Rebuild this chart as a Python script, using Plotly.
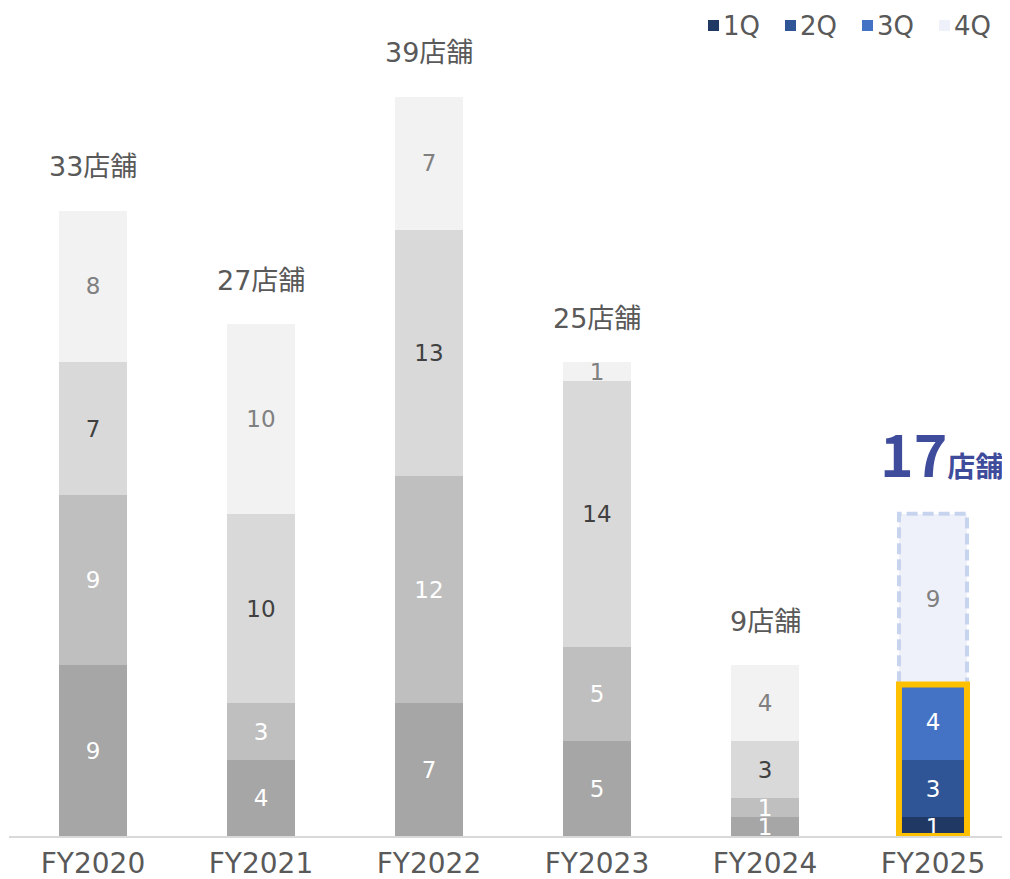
import plotly.graph_objects as go

# ---- data ----
years = ["FY2020", "FY2021", "FY2022", "FY2023", "FY2024", "FY2025"]
quarters = ["1Q", "2Q", "3Q", "4Q"]
q1 = [9, 4, 7, 5, 1, 1]
q2 = [9, 3, 12, 5, 1, 3]
q3 = [7, 10, 13, 14, 3, 4]
q4 = [8, 10, 7, 1, 4, 9]
unit = "店舗"

series = [q1, q2, q3, q4]
totals = [sum(v) for v in zip(*series)]

# ---- styles ----
grey = ["#A6A6A6", "#BFBFBF", "#D9D9D9", "#F2F2F2"]
blue = ["#203864", "#2F5597", "#4472C4", "#EEF1F9"]
grey_txt = ["#FFFFFF", "#FFFFFF", "#404040", "#808080"]
blue_txt = ["#FFFFFF", "#FFFFFF", "#FFFFFF", "#808080"]
FONT = "DejaVu Sans, Noto Sans CJK JP"
BOLD_FONT = "Noto Sans CJK JP"
TXT = "#595959"
BAR_W = 0.405

# figure geometry (page has an 8px body margin)
W, H = 1002, 871
L, R, T, B = 1, 0, 12, 43
PAD = 8


def xp(px):
    return (px - PAD - L) / (W - L - R)


def yp(py):
    return (H - B - (py - PAD)) / (H - T - B)


past = years[:-1]
cur = years[-1]

fig = go.Figure()
for i, (q, vals) in enumerate(zip(quarters, series)):
    fig.add_trace(go.Bar(
        x=past, y=vals[:-1], name=q, showlegend=False,
        marker=dict(color=grey[i], line=dict(width=0)),
        text=vals[:-1], textposition="inside", insidetextanchor="middle", textangle=0,
        textfont=dict(color=grey_txt[i], size=23, family=FONT),
        hoverinfo="skip",
    ))
    fig.add_trace(go.Bar(
        x=[cur], y=[vals[-1]], name=q, showlegend=False,
        marker=dict(color=blue[i], line=dict(width=0)),
        text=[vals[-1]], textposition="inside", insidetextanchor="middle", textangle=0,
        textfont=dict(color=blue_txt[i], size=23, family=FONT),
        hoverinfo="skip",
    ))

# total labels
for yr, tot in zip(past, totals[:-1]):
    fig.add_annotation(x=yr, y=tot, yshift=44, text=f"{tot}{unit}", showarrow=False,
                       font=dict(size=27, color=TXT, family=FONT), yanchor="middle")
fig.add_annotation(
    x=cur, y=totals[-1], yshift=19, xshift=8, showarrow=False, yanchor="bottom",
    text=f"<b><span style='font-size:57px'>{totals[-1]}</span>"
         f"<span style='font-size:28px'>{unit}</span></b>",
    font=dict(color="#3F4C9B", family=BOLD_FONT),
)

# current year outlines
ci = years.index(cur)
done = q1[ci] + q2[ci] + q3[ci]
fig.add_shape(type="rect", xref="x", yref="y",
              x0=ci - BAR_W / 2, x1=ci + BAR_W / 2, y0=done, y1=totals[ci],
              line=dict(color="#C7D4EE", width=4, dash="11px,5px"), layer="above")
fig.add_shape(type="rect", xref="x", yref="y",
              x0=ci - BAR_W / 2, x1=ci + BAR_W / 2, y0=0, y1=done,
              line=dict(color="#FFC000", width=6), layer="above")

# legend (square + label)
for i, q in enumerate(quarters):
    x0 = 708 + 77 * i
    fig.add_shape(type="rect", xref="paper", yref="paper",
                  x0=xp(x0), x1=xp(x0 + 11), y0=yp(31), y1=yp(20),
                  fillcolor=blue[i], line=dict(width=0))
    fig.add_annotation(xref="paper", yref="paper", x=xp(x0 + 13), y=yp(26),
                       xanchor="left", yanchor="middle", showarrow=False, text=q,
                       font=dict(size=26, color=TXT, family=FONT))

fig.update_layout(
    width=W, height=H,
    margin=dict(l=L, r=R, t=T, b=B),
    barmode="stack", bargap=1 - BAR_W,
    plot_bgcolor="white", paper_bgcolor="white",
    font=dict(family=FONT, color=TXT),
    uniformtext=dict(minsize=23, mode="show"),
    showlegend=False,
    xaxis=dict(type="category", range=[-0.5, -0.5 + (W - L - R) / 168],
               showline=True, linecolor="#D9D9D9", linewidth=2, automargin=False,
               tickfont=dict(size=28, color=TXT, family=FONT), ticks="",
               ticklabelstandoff=1),
    yaxis=dict(range=[0, (H - T - B) / 18.95], visible=False, showgrid=False),
)

fig.write_html("out.html")
